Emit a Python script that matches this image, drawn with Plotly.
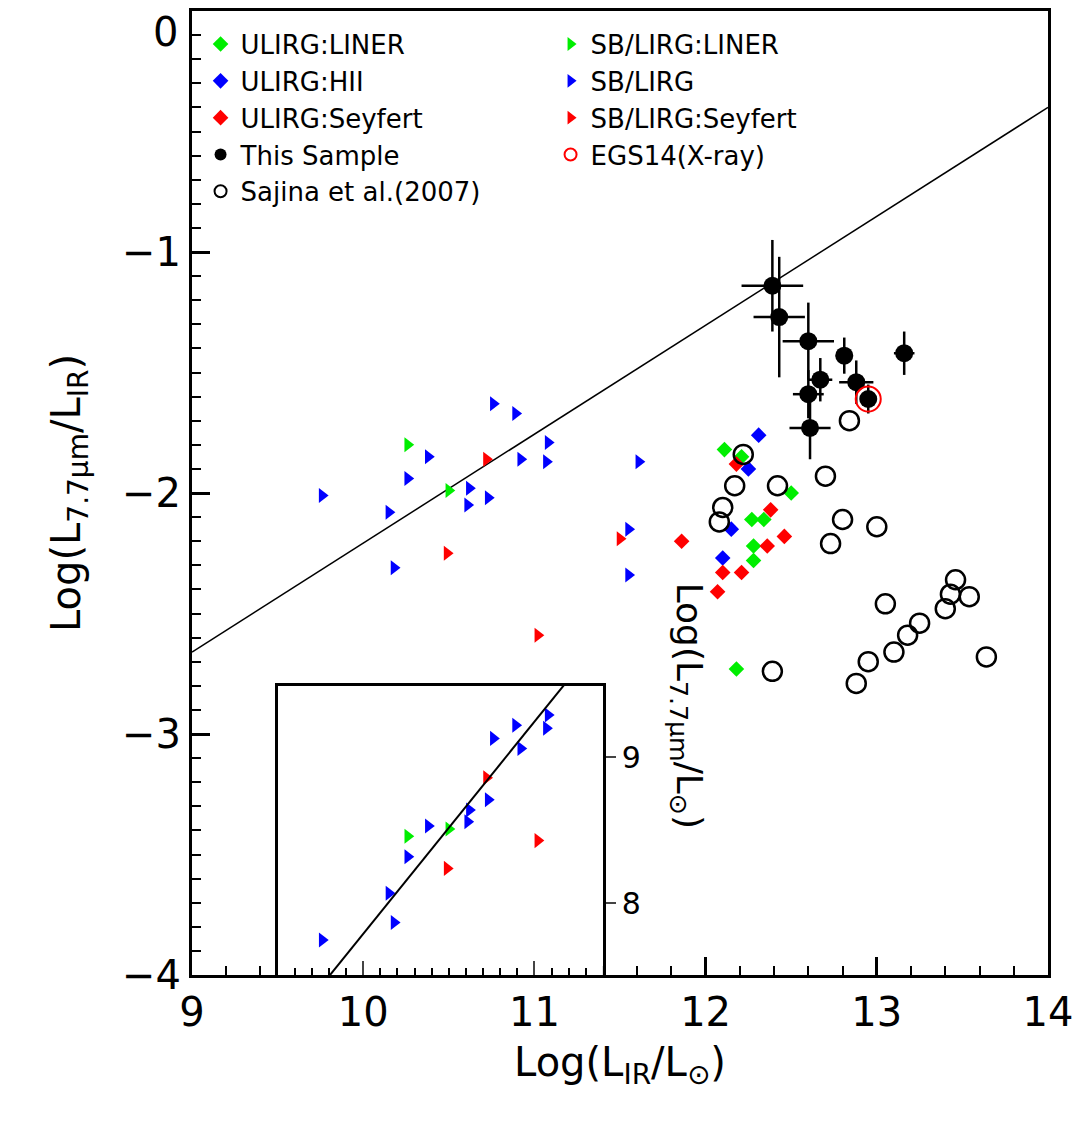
import plotly.graph_objects as go

# ---- data ----
ul_liner_x = [12.11, 12.21, 12.50, 12.27, 12.34, 12.28, 12.28, 12.18]
ul_liner_y = [-1.82, -1.85, -2.00, -2.11, -2.11, -2.22, -2.28, -2.73]
ul_hii_x = [12.31, 12.25, 12.15, 12.10]
ul_hii_y = [-1.76, -1.90, -2.15, -2.27]
ul_sey_x = [12.18, 12.38, 11.86, 12.36, 12.46, 12.10, 12.21, 12.07]
ul_sey_y = [-1.88, -2.07, -2.20, -2.22, -2.18, -2.33, -2.33, -2.41]

sb_liner_x = [10.26, 10.50]
sb_liner_y = [-1.80, -1.99]
sb_x = [9.76, 10.76, 10.89, 10.38, 11.08, 10.92, 11.07, 10.26, 10.62, 10.73, 10.61, 10.15, 10.18, 11.55, 11.55, 11.61]
sb_y = [-2.01, -1.63, -1.67, -1.85, -1.79, -1.86, -1.87, -1.94, -1.98, -2.02, -2.05, -2.08, -2.31, -2.15, -2.34, -1.87]
sb_sey_x = [10.72, 10.49, 11.02, 11.50]
sb_sey_y = [-1.86, -2.25, -2.59, -2.19]

ts_x = [12.39, 12.43, 12.60, 12.81, 13.16, 12.67, 12.88, 12.60, 12.95, 12.61]
ts_y = [-1.14, -1.27, -1.37, -1.43, -1.42, -1.53, -1.54, -1.59, -1.61, -1.73]
ts_xerr = [0.18, 0.15, 0.15, 0.05, 0.06, 0.07, 0.10, 0.09, 0.04, 0.12]
ts_yerr = [0.19, 0.25, 0.16, 0.075, 0.09, 0.09, 0.09, 0.10, 0.06, 0.13]
egs_x = [12.95]
egs_y = [-1.61]

saj_x = [12.84, 12.22, 12.70, 12.17, 12.42, 12.10, 12.08, 12.80, 13.00, 12.73, 13.46, 13.43, 13.54,
         13.05, 13.40, 13.25, 13.18, 13.10, 13.64, 12.95, 12.39, 12.88]
saj_y = [-1.70, -1.84, -1.93, -1.97, -1.97, -2.06, -2.12, -2.11, -2.14, -2.21, -2.36, -2.42, -2.43,
         -2.46, -2.48, -2.54, -2.59, -2.66, -2.68, -2.70, -2.74, -2.79]

y_tickvals = [-4, -3, -2, -1]
y_ticktext = ["−4", "−3", "−2", "−1"]

fit_x = [9.0, 14.0]
fit_a, fit_b = -2.66, 0.452  # log ratio = a + b*(x-9)

GREEN, BLUE, RED = "#00ee00", "#0000ff", "#ff0000"
fig = go.Figure()

fig.add_trace(go.Scatter(x=fit_x, y=[fit_a + fit_b * (v - 9) for v in fit_x], mode="lines",
                         line=dict(color="black", width=1.5), showlegend=False))
fig.add_trace(go.Scatter(x=ul_liner_x, y=ul_liner_y, mode="markers", name="ULIRG:LINER",
                         marker=dict(symbol="diamond", color=GREEN, size=12)))
fig.add_trace(go.Scatter(x=sb_liner_x, y=sb_liner_y, mode="markers", name="SB/LIRG:LINER",
                         marker=dict(symbol="triangle-right", color=GREEN, size=13)))
fig.add_trace(go.Scatter(x=ul_hii_x, y=ul_hii_y, mode="markers", name="ULIRG:HII",
                         marker=dict(symbol="diamond", color=BLUE, size=12)))
fig.add_trace(go.Scatter(x=sb_x, y=sb_y, mode="markers", name="SB/LIRG",
                         marker=dict(symbol="triangle-right", color=BLUE, size=13)))
fig.add_trace(go.Scatter(x=ul_sey_x, y=ul_sey_y, mode="markers", name="ULIRG:Seyfert",
                         marker=dict(symbol="diamond", color=RED, size=12)))
fig.add_trace(go.Scatter(x=sb_sey_x, y=sb_sey_y, mode="markers", name="SB/LIRG:Seyfert",
                         marker=dict(symbol="triangle-right", color=RED, size=13)))
fig.add_trace(go.Scatter(x=ts_x, y=ts_y, mode="markers", name="This Sample",
                         marker=dict(symbol="circle", color="black", size=18),
                         error_x=dict(type="data", array=ts_xerr, color="black", thickness=2.5, width=0),
                         error_y=dict(type="data", array=ts_yerr, color="black", thickness=2.5, width=0)))
fig.add_trace(go.Scatter(x=egs_x, y=egs_y, mode="markers", name="EGS14(X-ray)",
                         marker=dict(symbol="circle-open", color=RED, size=25, line=dict(width=2))))
fig.add_trace(go.Scatter(x=saj_x, y=saj_y, mode="markers", name="Sajina et al.(2007)",
                         marker=dict(symbol="circle-open", color="black", size=19, line=dict(width=2.5))))

# inset: L7.7 = LIR + ratio
for xs, ys, col in [(sb_x, sb_y, BLUE), (sb_liner_x, sb_liner_y, GREEN), (sb_sey_x, sb_sey_y, RED)]:
    fig.add_trace(go.Scatter(x=xs, y=[a + b for a, b in zip(xs, ys)], mode="markers", xaxis="x2", yaxis="y2",
                             marker=dict(symbol="triangle-right", color=col, size=13), showlegend=False))
ix = [9.5, 11.4]
fig.add_trace(go.Scatter(x=ix, y=[v + fit_a + fit_b * (v - 9) for v in ix], mode="lines", xaxis="x2", yaxis="y2",
                         line=dict(color="black", width=2), showlegend=False))

FONT = "DejaVu Sans"
ax = dict(showline=True, linecolor="black", linewidth=3, mirror=True, ticks="inside",
          ticklen=18, tickwidth=2.5, tickcolor="black", showgrid=False, zeroline=False,
          tickfont=dict(size=40, family=FONT, color="black"))
fig.update_layout(
    width=1085, height=1134, plot_bgcolor="white", paper_bgcolor="white",
    margin=dict(l=184, r=45, t=0, b=167),
    font=dict(family=FONT, color="black"),
    xaxis=dict(range=[9, 14], dtick=1, minor=dict(dtick=0.2, ticklen=9, tickwidth=2, ticks="inside", tickcolor="black"),
               title=dict(text="Log(L<sub>IR</sub>/L<sub>⊙</sub>)", font=dict(size=40), standoff=14), **ax),
    yaxis=dict(range=[-4, 0], minor=dict(dtick=0.1, ticklen=9, tickwidth=2, ticks="inside", tickcolor="black"),
               tickvals=y_tickvals, ticktext=y_ticktext,
               title=dict(text="Log(L<sub>7.7μm</sub>/L<sub>IR</sub>)", font=dict(size=40), standoff=30), **ax),
    xaxis2=dict(domain=[0.1005, 0.480], range=[9.502, 11.40], anchor="y2", showline=True, linecolor="black",
                linewidth=2.5, mirror=True, ticks="inside", ticklen=14, tickwidth=2, showticklabels=False,
                dtick=1, minor=dict(dtick=0.1, ticklen=7, ticks="inside", tickcolor="black"),
                showgrid=False, zeroline=False),
    yaxis2=dict(domain=[0, 0.300], range=[7.51, 9.49], anchor="x2", side="right", showline=True, linecolor="black",
                linewidth=2.5, mirror=True, ticks="outside", ticklen=10, tickwidth=2, dtick=1,
                tickfont=dict(size=30, family=FONT), showgrid=False, zeroline=False),
    legend=dict(x=0.01, y=0.99, xanchor="left", yanchor="top", orientation="h", entrywidth=305,
                font=dict(size=26, family=FONT), bgcolor="rgba(0,0,0,0)", itemsizing="constant"),
    showlegend=True,
)
fig.add_annotation(text="0", xref="paper", yref="y", x=0, y=0, xanchor="right", yanchor="top",
                   xshift=-12, yshift=4, showarrow=False, font=dict(size=40, family=FONT))
fig.add_annotation(text="Log(L<sub>7.7μm</sub>/L<sub>⊙</sub>)", textangle=90, xref="paper", yref="paper",
                   x=0.578, y=0.15, showarrow=False, font=dict(size=36, family=FONT))
fig.write_html("out.html")
